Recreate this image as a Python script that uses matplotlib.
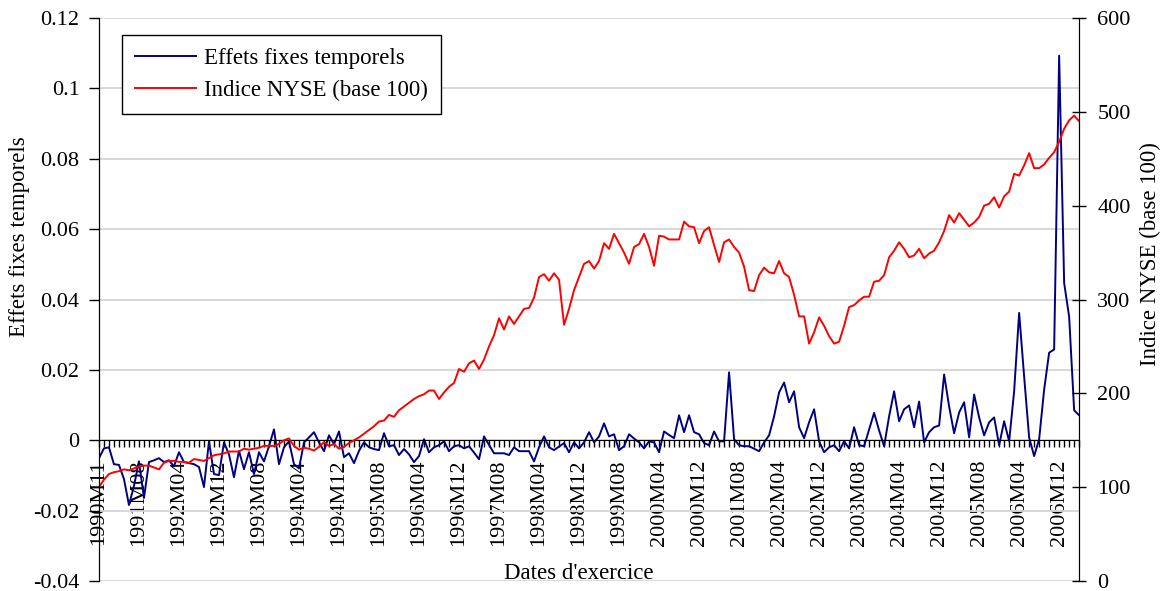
import matplotlib
matplotlib.use("Agg")
import matplotlib.pyplot as plt
from matplotlib.ticker import FixedLocator, MultipleLocator

plt.rcParams['font.family'] = ['Liberation Serif', 'DejaVu Serif']

# labels shown on the category axis (one every 8 observations)
tick_labels = ["1990M11", "1991M08", "1992M04", "1992M12", "1993M08",
               "1994M04", "1994M12", "1995M08", "1996M04", "1996M12",
               "1997M08", "1998M04", "1998M12", "1999M08", "2000M04",
               "2000M12", "2001M08", "2002M04", "2002M12", "2003M08",
               "2004M04", "2004M12", "2005M08", "2006M04", "2006M12"]

# effets fixes temporels (left axis)
effets = [
    -0.0051, -0.0023, -0.0020, -0.0068, -0.0070, -0.0110, -0.0184, -0.0130, -0.0060, -0.0164,
    -0.0062, -0.0057, -0.0051, -0.0062, -0.0057, -0.0074, -0.0034, -0.0062, -0.0065, -0.0068,
    -0.0076, -0.0133, -0.0003, -0.0096, -0.0099, -0.0006, -0.0040, -0.0105, -0.0030, -0.0082,
    -0.0034, -0.0096, -0.0034, -0.0060, -0.0017, 0.0031, -0.0068, -0.0020, -0.0003, -0.0068,
    -0.0080, -0.0006, 0.0008, 0.0023, -0.0006, -0.0031, 0.0014, -0.0011, 0.0025, -0.0048,
    -0.0037, -0.0065, -0.0030, -0.0006, -0.0020, -0.0025, -0.0028, 0.0020, -0.0017, -0.0014,
    -0.0042, -0.0025, -0.0040, -0.0062, -0.0045, 0.0003, -0.0034, -0.0020, -0.0014, -0.0003,
    -0.0031, -0.0017, -0.0014, -0.0023, -0.0017, -0.0035, -0.0054, 0.0011, -0.0013, -0.0037,
    -0.0037, -0.0037, -0.0042, -0.0020, -0.0031, -0.0031, -0.0031, -0.0060, -0.0020, 0.0011,
    -0.0020, -0.0028, -0.0018, -0.0008, -0.0034, -0.0006, -0.0023, -0.0006, 0.0023, -0.0006,
    0.0011, 0.0048, 0.0011, 0.0017, -0.0028, -0.0017, 0.0017, 0.0005, -0.0006, -0.0023,
    -0.0003, -0.0006, -0.0034, 0.0025, 0.0015, 0.0006, 0.0071, 0.0023, 0.0071, 0.0023,
    0.0017, -0.0008, -0.0014, 0.0025, -0.0003, -0.0003, 0.0193, 0.0003, -0.0014, -0.0017,
    -0.0017, -0.0024, -0.0031, -0.0006, 0.0014, 0.0068, 0.0136, 0.0164, 0.0108, 0.0139,
    0.0037, 0.0006, 0.0051, 0.0088, -0.0003, -0.0034, -0.0020, -0.0014, -0.0031, -0.0003,
    -0.0023, 0.0037, -0.0014, -0.0017, 0.0031, 0.0078, 0.0028, -0.0017, 0.0068, 0.0139,
    0.0054, 0.0088, 0.0099, 0.0037, 0.0110, -0.0006, 0.0023, 0.0037, 0.0042, 0.0187,
    0.0096, 0.0020, 0.0079, 0.0108, 0.0008, 0.0130, 0.0065, 0.0014, 0.0051, 0.0065,
    -0.0014, 0.0054, -0.0003, 0.0139, 0.0362, 0.0181, 0.0008, -0.0045, 0.0003, 0.0144,
    0.0249, 0.0258, 0.1093, 0.0447, 0.0351, 0.0085, 0.0071,
]

# indice NYSE base 100 (right axis)
nyse = [
    100, 108, 114, 116, 117, 119, 118, 120, 122, 123,
    123, 121, 119, 126, 128, 128, 127, 127, 126, 130,
    129, 128, 131, 134, 135, 136, 138, 138, 138, 141,
    140, 141, 142, 144, 144, 144, 146, 150, 152, 144,
    140, 142, 141, 139, 143, 148, 144, 146, 141, 143,
    147, 150, 153, 157, 161, 165, 170, 171, 177, 175,
    182, 186, 190, 194, 197, 199, 203, 203, 194, 201,
    207, 211, 226, 223, 232, 235, 226, 236, 250, 262,
    280, 268, 282, 274, 282, 290, 291, 302, 324, 327,
    320, 328, 321, 273, 290, 310, 324, 338, 341, 333,
    341, 360, 354, 370, 360, 350, 338, 356, 359, 370,
    356, 336, 368, 367, 364, 364, 364, 383, 378, 377,
    360, 373, 377, 358, 340, 361, 364, 356, 350, 335,
    310, 309, 326, 334, 329, 328, 341, 328, 324, 305,
    282, 282, 253, 265, 281, 272, 261, 253, 255, 272,
    292, 294, 299, 303, 303, 319, 320, 326, 345, 352,
    361, 354, 345, 347, 354, 344, 349, 352, 361, 373,
    390, 382, 392, 385, 378, 382, 388, 400, 402, 409,
    398, 410, 415, 434, 432, 443, 456, 440, 440, 444,
    451, 457, 468, 482, 491, 496, 490,
]

x = list(range(len(effets)))

fig = plt.figure(figsize=(11.6, 5.91), dpi=100)
ax = fig.add_axes([0.0853, 0.0169, 0.845, 0.9526])
ax2 = ax.twinx()

l1, = ax.plot(x, effets, color='#000080', lw=1.4, label='Effets fixes temporels')
l2, = ax2.plot(x, nyse, color='#ff0000', lw=1.4, label='Indice NYSE (base 100)')

# left axis
ax.set_xlim(0, len(effets) - 1)
ax.set_ylim(-0.04, 0.12)
yt = [-0.04, -0.02, 0, 0.02, 0.04, 0.06, 0.08, 0.1, 0.12]
ax.set_yticks(yt)
ax.set_yticklabels(["-0.04", "-0.02", "0", "0.02", "0.04", "0.06", "0.08", "0.1", "0.12"])
ax.yaxis.grid(True, color='#d6d6d6', lw=1.3)
ax.set_axisbelow(True)
ax.tick_params(axis='y', direction='out', length=7, width=1, pad=7, labelsize=16)

# category axis sits on the zero line
ax.spines['bottom'].set_position(('data', 0))
ax.spines['top'].set_visible(False)
ax.xaxis.set_major_locator(FixedLocator(x[::8]))
ax.set_xticklabels(tick_labels, rotation=90, va='top', ha='center')
ax.xaxis.set_minor_locator(MultipleLocator(1))
ax.tick_params(axis='x', which='both', direction='out', length=5, width=1, pad=9, labelsize=16)

ax.set_xlabel("Dates d'exercice", fontsize=16.5)
ax.xaxis.set_label_coords(0.49, 0.032)
ax.set_ylabel("Effets fixes temporels", fontsize=16.5)
ax.yaxis.set_label_coords(-0.070, 0.612)

# right axis
ax2.set_ylim(0, 600)
ax2.set_yticks(range(0, 601, 100))
ax2.tick_params(axis='y', direction='inout', length=10, width=1, pad=8, labelsize=16)
ax2.spines['top'].set_visible(False)
ax2.spines['bottom'].set_visible(False)
ax2.set_ylabel("Indice NYSE (base 100)", fontsize=16.5)
ax2.yaxis.set_label_coords(1.062, 0.58)

leg = ax2.legend(handles=[l1, l2], loc='upper left', bbox_to_anchor=(0.0235, 0.970),
                 borderaxespad=0, fontsize=16.5, frameon=True, fancybox=False,
                 edgecolor='black', framealpha=1, borderpad=0.55, labelspacing=0.5,
                 handlelength=2.7, handletextpad=0.35)
leg.get_frame().set_linewidth(1.0)

fig.savefig("out.png", dpi=100)
